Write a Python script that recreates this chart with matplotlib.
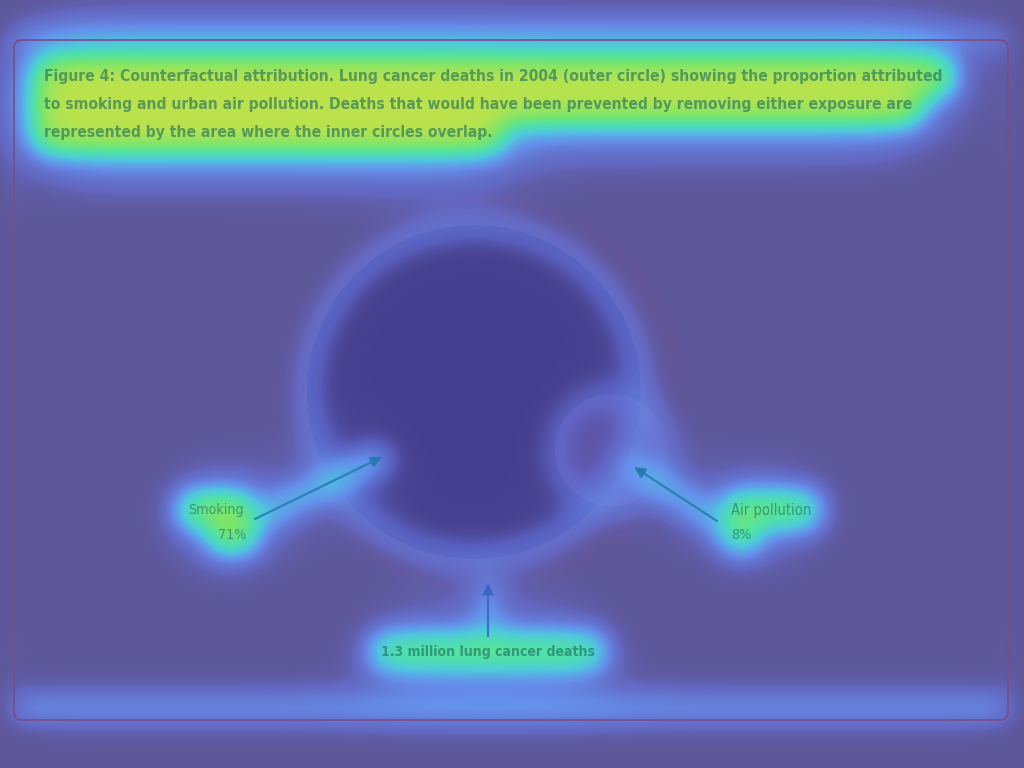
"""Counterfactual attribution figure (lung cancer deaths), shown under a saliency-style heat overlay."""
from pathlib import Path

import numpy as np
import matplotlib

matplotlib.use("Agg")
import matplotlib.pyplot as plt
from matplotlib import font_manager
from matplotlib.colors import LinearSegmentedColormap
from matplotlib.patches import Circle, FancyBboxPatch

# ---- data ----
CAPTION = [
    "Figure 4: Counterfactual attribution. Lung cancer deaths in 2004 (outer circle) showing the proportion attributed",
    "to smoking and urban air pollution. Deaths that would have been prevented by removing either exposure are",
    "represented by the area where the inner circles overlap.",
]
EXPOSURES = ["Smoking", "Air pollution"]
SHARES = [71, 8]  # % of lung cancer deaths attributed
TOTAL_LABEL = "1.3 million lung cancer deaths"

# ---- layout (pixels, origin top-left) ----
W, H = 1024, 768
BG = "#5e5799"
OUTER_C, OUTER_R = (487, 395), 198
CENTERS = [(474, 392), (611, 450)]
LABEL_XY = [(244, 510), (731, 510)]
LABEL_HA = ["right", "left"]
ARROWS = [((255, 519), (382, 457)), ((717, 521), (634, 467)), ((488, 636), (488, 583))]


def narrow_font(bold):
    """Prefer a condensed face; fall back to DejaVu Sans."""
    files = [f for f in font_manager.fontManager.ttflist
             if ("narrow" in Path(f.fname).name.lower() or "condensed" in Path(f.fname).name.lower())
             and "italic" not in Path(f.fname).name.lower()
             and "oblique" not in Path(f.fname).name.lower()]
    for key in ["liberationsansnarrow", "dejavusanscondensed", "robotocondensed", "opensans", "noto"]:
        for f in files:
            n = Path(f.fname).name.lower().replace("-", "").replace("_", "")
            is_bold = "bold" in n and "semibold" not in n and "extrabold" not in n
            if n.startswith(key) and is_bold == bold:
                return font_manager.FontProperties(fname=f.fname)
    return font_manager.FontProperties(family="DejaVu Sans", weight="bold" if bold else "normal")


FP_BOLD = narrow_font(True)
FP_REG = narrow_font(False)

fig = plt.figure(figsize=(W / 100, H / 100), dpi=100)
fig.patch.set_facecolor(BG)
ax = fig.add_axes([0, 0, 1, 1])
ax.set_xlim(0, W)
ax.set_ylim(H, 0)
ax.axis("off")

frame = FancyBboxPatch((14, 40), 994, 680, boxstyle="round,pad=0,rounding_size=8",
                       ec="#7a4c86", fc="none", lw=1.2, zorder=2.5)
ax.add_patch(frame)

# outer circle = all deaths, inner circles sized by attributable share (area)
ax.add_patch(Circle(OUTER_C, OUTER_R, fc="#655595", ec="#6d5590", lw=1, alpha=0.5, zorder=1))
radii = [OUTER_R * np.sqrt(s / 100) for s in SHARES]
ax.add_patch(Circle(CENTERS[0], radii[0], fc="#433e8d", ec="none", zorder=1.2))
ax.add_patch(Circle(CENTERS[1], radii[1], fc="#8a70c4", ec="none", alpha=0.35, zorder=1.4))

TXT = dict(color="#1a6a62", alpha=0.6, zorder=4)
texts = []
for i, line in enumerate(CAPTION):
    t = ax.text(44, 76 + 28 * i, line, ha="left", va="center", fontproperties=FP_BOLD, **TXT)
    texts.append((t, 1.3, 5))

label_heat = [1.25, 1.0]
for (x, y), ha, name, share, hv in zip(LABEL_XY, LABEL_HA, EXPOSURES, SHARES, label_heat):
    t1 = ax.text(x, y, name, ha=ha, va="center", fontproperties=FP_REG, **TXT)
    t2 = ax.text(x + (2 if ha == "right" else 0), y + 25, f"{share}%", ha=ha, va="center",
                 fontproperties=FP_REG, **TXT)
    texts += [(t1, hv, 4), (t2, hv, 4)]

tt = ax.text(488, 652, TOTAL_LABEL, ha="center", va="center", fontproperties=FP_BOLD, **TXT)
texts.append((tt, 0.85, 6))

for (tail, tip), col in zip(ARROWS, ["#2479b0", "#2479b0", "#3a64c8"]):
    ax.annotate("", xy=tip, xytext=tail, zorder=4,
                arrowprops=dict(arrowstyle="-|>", color=col, lw=1.6, alpha=0.85,
                                mutation_scale=16, shrinkA=0, shrinkB=0))

# fit caption / label widths to the reference
for t, _, _ in texts:
    t.set_fontsize(14)
fig.canvas.draw()
renderer = fig.canvas.get_renderer()
targets = {CAPTION[0]: 904, "Smoking": 56, "Air pollution": 80, TOTAL_LABEL: 217}
scale = {t.get_text(): targets[t.get_text()] / t.get_window_extent(renderer).width
         for t, _, _ in texts if t.get_text() in targets}
for t, _, _ in texts:
    s = t.get_text()
    if s in CAPTION:
        k = scale[CAPTION[0]]
    elif s.endswith("%"):
        k = scale["Smoking"]
    else:
        k = scale[s]
    t.set_fontsize(14 * k)
fig.canvas.draw()

# ---- heat overlay built from where the content sits ----
yy, xx = np.mgrid[0:H, 0:W] + 0.5
M = np.zeros((H, W))

for t, hv, pad in texts:
    bb = t.get_window_extent(renderer)
    y0, y1 = H - bb.y1, H - bb.y0
    box = (xx >= bb.x0 - pad) & (xx <= bb.x1 + pad) & (yy >= y0 - pad) & (yy <= y1 + pad)
    M = np.maximum(M, hv * box)


def seg_mask(p, q, half):
    p, q = np.asarray(p, float), np.asarray(q, float)
    d = q - p
    u = np.clip(((xx - p[0]) * d[0] + (yy - p[1]) * d[1]) / d.dot(d), 0, 1)
    return np.hypot(xx - p[0] - u * d[0], yy - p[1] - u * d[1]) <= half


for (tail, tip), hv in zip(ARROWS, [1.0, 0.9, 0.6]):
    M = np.maximum(M, hv * seg_mask(tail, tip, 4))

for c, r, hv in zip(CENTERS, radii, [0.28, 0.2]):
    ring = np.abs(np.hypot(xx - c[0], yy - c[1]) - r) <= 6
    M = np.maximum(M, hv * ring)

inside_x = (xx >= 14) & (xx <= 1008)
inside_y = (yy >= 40) & (yy <= 720)
M = np.maximum(M, 0.45 * ((np.abs(yy - 38) <= 4) & inside_x))
M = np.maximum(M, 0.3 * ((np.abs(yy - 708) <= 10) & inside_x))
M = np.maximum(M, 0.12 * (((np.abs(xx - 14) <= 3) | (np.abs(xx - 1008) <= 3)) & inside_y))


def gauss(n, s):
    i = np.arange(n)
    g = np.exp(-0.5 * ((i[:, None] - i[None, :]) / s) ** 2)
    return g / (s * np.sqrt(2 * np.pi))


def blur(a, s):
    return gauss(a.shape[0], s) @ a @ gauss(a.shape[1], s).T


raw = blur(M, 14) + 0.6 * blur(M, 40)
field = 1 - np.exp(-1.2 * raw)

heat = LinearSegmentedColormap.from_list("heat", [
    (0.00, (0.37, 0.34, 0.60, 0.0)),
    (0.10, (0.40, 0.45, 0.86, 0.6)),
    (0.25, (0.40, 0.59, 0.96, 0.9)),
    (0.40, (0.31, 0.78, 0.88, 1.0)),
    (0.55, (0.31, 0.88, 0.67, 1.0)),
    (0.70, (0.47, 0.90, 0.43, 1.0)),
    (0.85, (0.72, 0.89, 0.30, 1.0)),
    (1.00, (0.82, 0.87, 0.28, 1.0)),
])
ax.imshow(field, cmap=heat, vmin=0, vmax=1, extent=(0, W, H, 0),
          interpolation="bilinear", aspect="auto", zorder=2)
ax.set_xlim(0, W)
ax.set_ylim(H, 0)

fig.savefig("out.png", dpi=100, facecolor=fig.get_facecolor())
